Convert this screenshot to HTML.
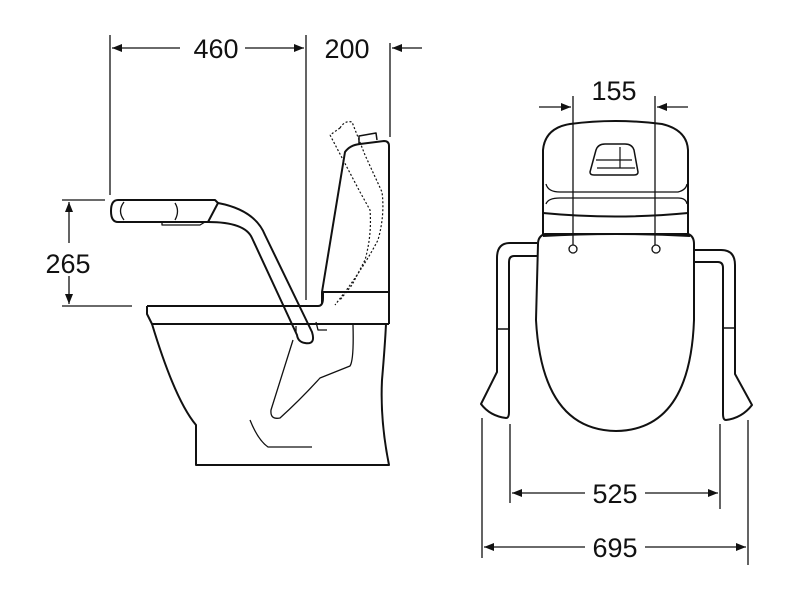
<!DOCTYPE html>
<html><head><meta charset="utf-8"><style>
html,body{margin:0;padding:0;background:#fff}
svg{display:block}
text{font-family:"Liberation Sans",sans-serif;font-size:27px;fill:#111}
</style></head><body>
<svg width="800" height="600" viewBox="0 0 800 600" xmlns="http://www.w3.org/2000/svg">
<defs>
<marker id="a" viewBox="0 0 10 10" refX="10" refY="5" markerWidth="10" markerHeight="10" markerUnits="userSpaceOnUse" orient="auto"><path d="M0,1 L10,5 L0,9z" fill="#111"/></marker>
</defs>
<g stroke="#111" stroke-width="1.3" fill="none">
<line x1="110" y1="35" x2="110" y2="195"/>
<line x1="306" y1="35" x2="306" y2="300"/>
<line x1="390" y1="43" x2="390" y2="137"/>
<line x1="180" y1="48" x2="112" y2="48" marker-end="url(#a)"/>
<line x1="245" y1="48" x2="304" y2="48" marker-end="url(#a)"/>
<line x1="422" y1="48" x2="392" y2="48" marker-end="url(#a)"/>
<line x1="62" y1="200" x2="105" y2="200"/>
<line x1="62" y1="306" x2="132" y2="306"/>
<line x1="69" y1="243" x2="69" y2="202" marker-end="url(#a)"/>
<line x1="69" y1="276" x2="69" y2="304" marker-end="url(#a)"/>
</g>
<text x="216" y="58" text-anchor="middle">460</text>
<text x="347" y="58" text-anchor="middle">200</text>
<text x="68" y="273" text-anchor="middle">265</text>
<g stroke="#111" stroke-width="2" fill="none" stroke-linejoin="round">
<path d="M322,304 L322,292 L345,152 Q350,145 360,144 L384,141 Q389,141 389,146 L389,292"/>
<path d="M359,144 L359,136 L376,133 L377,140" stroke-width="1.5"/>
<path d="M147,306 L318,306 Q323,306 323,298 L323,292 L389,292 L389,324"/>
<path d="M147,306 L147,314 L152,324 L389,324"/>
<path d="M152,324 Q175,400 196,425 L196,465 L389,465 Q380,420 382,380 Q385,345 386,324"/>
<path d="M293,340 L271,410 Q270,420 280,418 Q300,400 320,378 Q340,370 350,366 Q354,360 353,325" stroke-width="1.3"/>
<path d="M250,420 Q258,440 268,447 L312,447" stroke-width="1.3"/>
<path d="M118,200 L215,200 L218,203 L208,222 L118,222 Q111,222 111,211 Q111,200 118,200z"/>
<path d="M124,202 Q117,211 124,220 M175,203 Q180,211 175,220" stroke-width="1.3"/>
<path d="M162,222 L162,225 L200,225 L205,222" stroke-width="1.3"/>
<path d="M218,203 Q255,210 265,235 L312,332 Q316,345 305,343 Q298,342 297,335 L252,238 Q245,222 208,222"/>
<path d="M296,326 L296,333 M316,322 L318,330 L327,330" stroke-width="1.3"/>
<path d="M340,128 Q345,120 352,122 L365,155 L382,192 Q385,215 378,240 Q365,265 345,292 L335,305 M330,135 L360,192 L370,210 Q372,235 365,260 L352,285 L340,300 M340,128 L330,135" stroke-width="1.2" stroke-dasharray="2,2"/>
</g>
<g stroke="#111" stroke-width="1.3" fill="none">
<line x1="573" y1="96" x2="573" y2="245"/>
<line x1="655" y1="96" x2="655" y2="245"/>
<line x1="539" y1="107" x2="571" y2="107" marker-end="url(#a)"/>
<line x1="688" y1="107" x2="657" y2="107" marker-end="url(#a)"/>
<line x1="510" y1="424" x2="510" y2="503"/>
<line x1="720" y1="424" x2="720" y2="509"/>
<line x1="482" y1="418" x2="482" y2="558"/>
<line x1="748" y1="420" x2="748" y2="565"/>
<line x1="585" y1="493" x2="512" y2="493" marker-end="url(#a)"/>
<line x1="645" y1="493" x2="718" y2="493" marker-end="url(#a)"/>
<line x1="585" y1="547" x2="484" y2="547" marker-end="url(#a)"/>
<line x1="645" y1="547" x2="746" y2="547" marker-end="url(#a)"/>
</g>
<text x="614" y="100" text-anchor="middle">155</text>
<text x="615" y="503" text-anchor="middle">525</text>
<text x="615" y="557" text-anchor="middle">695</text>
<g stroke="#111" stroke-width="2" fill="none" stroke-linejoin="round">
<path d="M543,234 L543,150 Q545,128 570,124 Q615,118 662,124 Q687,130 688,150 L688,234"/>
<path d="M590,172 L596,150 Q598,144 605,144 L625,144 Q632,144 634,150 L638,172 Q638,175 634,175 L594,175 Q590,175 590,172z" stroke-width="1.5"/>
<path d="M596,160 L632,160 M620,147 L620,168 M597,168 L635,168" stroke-width="1.2"/>
<path d="M546,184 Q548,192 560,192 L678,192 Q686,190 687,184 M546,204 Q548,198 560,198 L678,198 Q686,198 687,204" stroke-width="1.3"/>
<path d="M543,213 Q615,220 688,213"/>
<path d="M543,236 Q615,232 690,236"/>
<path d="M538,244 Q538,236 545,234 L688,234 Q694,236 694,244 L694,320 Q690,430 616,431 Q542,430 536,320z"/>
<circle cx="573" cy="249" r="4" stroke-width="1.3"/>
<circle cx="656" cy="249" r="4" stroke-width="1.3"/>
<path d="M537,243 L510,243 Q497,243 497,258 L497,372 L481,404 Q490,416 506,418 Q509,418 509,412 L509,262 Q509,256 514,256 L537,256"/>
<line x1="497" y1="329" x2="509" y2="329" stroke-width="1.5"/>
<path d="M694,250 L721,250 Q735,250 735,265 L735,374 L752,405 Q742,418 726,420 Q723,420 723,414 L723,268 Q723,262 718,262 L694,262"/>
<line x1="723" y1="328" x2="735" y2="328" stroke-width="1.5"/>
</g>
</svg>
</body></html>
